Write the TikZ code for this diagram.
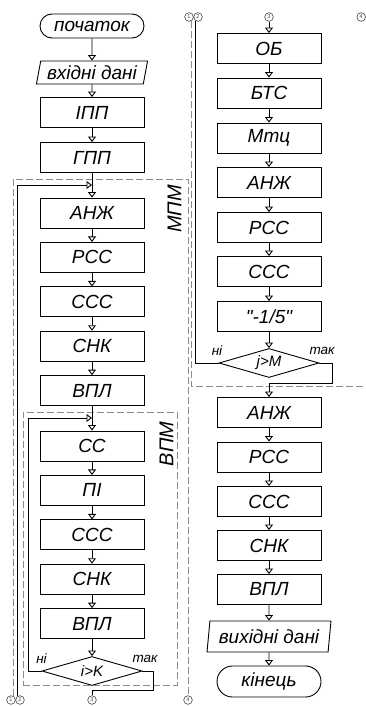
\documentclass[tikz,border=0pt]{standalone}
\usepackage{fontspec}
\setmainfont{Liberation Sans}[Ligatures=TeXOff]
\usetikzlibrary{arrows.meta,shapes.geometric}
\begin{document}
\begin{tikzpicture}[x=1pt,y=-1pt,
  every node/.style={font=\fontsize{19}{19}\selectfont\itshape, inner sep=0pt},
  box/.style={draw, line width=0.9pt, rectangle, minimum width=104pt, minimum height=30pt},
  termS/.style={draw, line width=0.9pt, rectangle, rounded corners=12pt, minimum width=104pt, minimum height=24pt},
  termL/.style={draw, line width=0.9pt, rectangle, rounded corners=15.5pt, minimum width=104pt, minimum height=31pt},
  io/.style={draw, line width=0.9pt, trapezium, trapezium stretches=true},
  dec/.style={draw, line width=0.9pt, diamond, aspect=3.4, minimum width=100pt, minimum height=29pt, font=\fontsize{15}{15}\selectfont\itshape},
  conn/.style={draw=black!75, circle, line width=0.6pt, minimum size=8.6pt, inner sep=0pt, text=black!75, font=\fontsize{5.5}{5.5}\selectfont\upshape},
  line/.style={draw, line width=0.9pt},
  arr/.style={line, -{Triangle[open, length=5.5pt, width=8pt]}},
  grp/.style={draw=black!45, line width=0.8pt, dash pattern=on 7pt off 3pt},
  lbl/.style={font=\fontsize{13.5}{13.5}\selectfont\itshape},
  glbl/.style={font=\fontsize{20}{20}\selectfont\itshape, rotate=90}
]
\useasboundingbox (0,0) rectangle (366,706);

% left column
\node[termS] (start) at (92,26) {початок};
\node[io, trapezium left angle=75, trapezium right angle=105, minimum width=112pt, minimum height=23pt] (in) at (92,72.5) {вхідні дані};
\node[box] (ipp) at (92,112.5) {ІПП};
\node[box] (gpp) at (92,157.5) {ГПП};
\node[box] (anzh1) at (92,213) {АНЖ};
\node[box] (rss1) at (92,257.4) {РСС};
\node[box] (sss1) at (92,301.8) {ССС};
\node[box] (snk1) at (92,346.2) {СНК};
\node[box] (vpl1) at (92,390.6) {ВПЛ};
\node[box] (ss) at (92,446) {СС};
\node[box] (pi) at (92,490.4) {ПІ};
\node[box] (sss2) at (92,534.8) {ССС};
\node[box] (snk2) at (92,579.2) {СНК};
\node[box] (vpl2) at (92,623.6) {ВПЛ};
\node[dec] (d1) at (92,671) {i>K};

% right column
\node[box] (ob) at (269,48.5) {ОБ};
\node[box] (bts) at (269,93) {БТС};
\node[box] (mtc) at (269,138) {Мтц};
\node[box] (anzh2) at (269,182.5) {АНЖ};
\node[box] (rss2) at (269,227.5) {РСС};
\node[box] (sss3) at (269,271.5) {ССС};
\node[box] (q) at (269,316.5) {"-1/5"};
\node[dec] (d2) at (269,363) {j>M};
\node[box] (anzh3) at (269,412.5) {АНЖ};
\node[box] (rss3) at (269,457) {РСС};
\node[box] (sss4) at (269,501.5) {ССС};
\node[box] (snk3) at (269,545.5) {СНК};
\node[box] (vpl3) at (269,589.5) {ВПЛ};
\node[io, trapezium left angle=80, trapezium right angle=100, minimum width=124pt, minimum height=31pt] (out) at (269,636.5) {вихідні дані};
\node[termL] (end) at (269,681.5) {кінець};

% off-page connectors
\node[conn] (c1L) at (11,700) {1};
\node[conn] (c2L) at (20,700) {2};
\node[conn] (c3L) at (92,700) {3};
\node[conn] (c4L) at (188,700) {4};
\node[conn] (c1R) at (189,17) {1};
\node[conn] (c2R) at (198,17) {2};
\node[conn] (c3R) at (269,17) {3};
\node[conn] (c4R) at (361.2,17) {4};

% labels
\node[lbl] (no1) at (41.5,659) {ні};
\node[lbl] (yes1) at (145,659) {так};
\node[lbl] (no2) at (217,351) {ні};
\node[lbl] (yes2) at (322,351) {так};
\node[glbl] (mpm) at (174.5,209) {МПМ};
\node[glbl] (vpml) at (166.5,444) {ВПМ};

% helper coordinates
\coordinate (j1) at (92,185);
\coordinate (j2) at (92,418);
\coordinate (mtop) at (0,179);
\coordinate (l2) at (28,0);
\coordinate (k1) at (153,690);
\coordinate (k2) at (332,383);
\coordinate (mr) at (366,386);

% group frames
\draw[grp] (c1L.60) -- (c1L.60 |- mtop) -| (c4L.north);
\node[grp, minimum width=154pt, minimum height=273pt] (vpm) at (100,548.5) {};
\draw[grp] (c1R.-60) |- (mr);

% flow
\foreach \a/\b in {start/in, in/ipp, ipp/gpp, gpp/anzh1, anzh1/rss1, rss1/sss1, sss1/snk1, snk1/vpl1, vpl1/ss, ss/pi, pi/sss2, sss2/snk2, snk2/vpl2, vpl2/d1,
  c3R/ob, ob/bts, bts/mtc, mtc/anzh2, anzh2/rss2, rss2/sss3, sss3/q, q/d2,
  anzh3/rss3, rss3/sss4, sss4/snk3, snk3/vpl3, vpl3/out, out/end}
  \draw[arr] (\a.south) -- (\b.north);

\draw[arr] (c2L.120) |- (j1);
\draw[arr] (d1.west) -| (l2 |- j2) -- (j2);
\draw[line] (d1.east) -| (k1) -| (c3L.north);
\draw[line] (d2.west) -| (c2R.-120);
\draw[arr] (d2.east) -| (k2) -| (anzh3.north);
\end{tikzpicture}
\end{document}
